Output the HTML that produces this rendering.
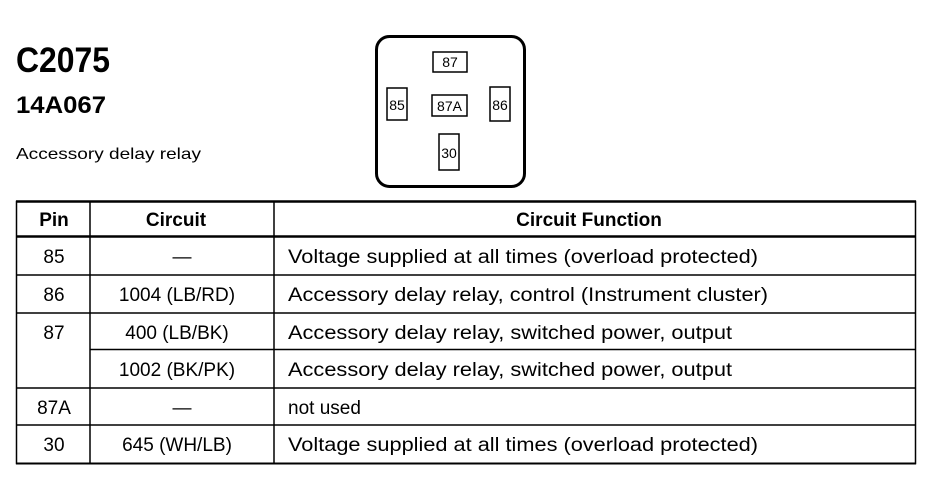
<!DOCTYPE html>
<html><head><meta charset="utf-8"><style>
html,body{margin:0;padding:0;background:#fff;}
svg{display:block;font-family:"Liberation Sans",Arial,sans-serif;}
</style></head><body>
<svg width="930" height="480" viewBox="0 0 930 480" xmlns="http://www.w3.org/2000/svg">
<text x="16" y="72" font-size="35" font-weight="bold" textLength="94" lengthAdjust="spacingAndGlyphs">C2075</text>
<text x="16" y="113" font-size="24" font-weight="bold" textLength="90" lengthAdjust="spacingAndGlyphs">14A067</text>
<text x="16" y="159" font-size="16" textLength="185" lengthAdjust="spacingAndGlyphs">Accessory delay relay</text>

<rect x="376.5" y="36.5" width="148" height="150" rx="13" fill="none" stroke="#000" stroke-width="3"/>
<g fill="none" stroke="#000" stroke-width="1.5">
<rect x="433" y="52" width="34" height="20"/>
<rect x="387" y="88" width="20" height="32"/>
<rect x="432" y="95" width="35" height="21"/>
<rect x="490" y="87" width="20" height="34"/>
<rect x="439" y="134" width="20" height="36"/>
</g>
<g font-size="14" text-anchor="middle">
<text x="450" y="67">87</text>
<text x="397" y="110">85</text>
<text x="449.5" y="111">87A</text>
<text x="500" y="110">86</text>
<text x="449" y="158">30</text>
</g>

<g stroke="#000" fill="none">
<rect x="16.5" y="201.5" width="899" height="262" stroke-width="1.5"/>
<line x1="16" y1="201.5" x2="916" y2="201.5" stroke-width="2.5"/>
<line x1="16" y1="236.5" x2="916" y2="236.5" stroke-width="2.5"/>
<line x1="16" y1="275" x2="916" y2="275" stroke-width="1.5"/>
<line x1="16" y1="313" x2="916" y2="313" stroke-width="1.5"/>
<line x1="90" y1="349.5" x2="916" y2="349.5" stroke-width="1.5"/>
<line x1="16" y1="388" x2="916" y2="388" stroke-width="1.5"/>
<line x1="16" y1="425" x2="916" y2="425" stroke-width="1.5"/>
<line x1="16" y1="463.5" x2="916" y2="463.5" stroke-width="2"/>
<line x1="90" y1="201" x2="90" y2="464" stroke-width="1.5"/>
<line x1="274" y1="201" x2="274" y2="464" stroke-width="1.5"/>
</g>
<g font-size="19" font-weight="bold" text-anchor="middle">
<text x="54" y="226">Pin</text>
<text x="176" y="226">Circuit</text>
<text x="589" y="226">Circuit Function</text>
</g>
<g font-size="19" text-anchor="middle">
<text x="54" y="263">85</text>
<text x="54" y="301">86</text>
<text x="54" y="339">87</text>
<text x="54" y="414">87A</text>
<text x="54" y="451">30</text>
<text x="182" y="263">—</text>
<text x="177" y="301">1004 (LB/RD)</text>
<text x="177" y="339">400 (LB/BK)</text>
<text x="177" y="376">1002 (BK/PK)</text>
<text x="182" y="414">—</text>
<text x="177" y="451">645 (WH/LB)</text>
</g>
<g font-size="19">
<text x="288" y="263" textLength="470" lengthAdjust="spacingAndGlyphs">Voltage supplied at all times (overload protected)</text>
<text x="288" y="301" textLength="480" lengthAdjust="spacingAndGlyphs">Accessory delay relay, control (Instrument cluster)</text>
<text x="288" y="339" textLength="444" lengthAdjust="spacingAndGlyphs">Accessory delay relay, switched power, output</text>
<text x="288" y="376" textLength="444" lengthAdjust="spacingAndGlyphs">Accessory delay relay, switched power, output</text>
<text x="288" y="414">not used</text>
<text x="288" y="451" textLength="470" lengthAdjust="spacingAndGlyphs">Voltage supplied at all times (overload protected)</text>
</g>
</svg>
</body></html>
